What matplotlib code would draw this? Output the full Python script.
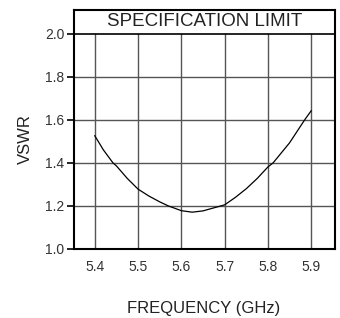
import matplotlib.pyplot as plt

plt.rcParams['font.family'] = ['Liberation Sans', 'DejaVu Sans']

freq = [5.40, 5.42, 5.442, 5.45, 5.475, 5.50, 5.525, 5.55, 5.57, 5.60, 5.625, 5.65,
        5.70, 5.725, 5.75, 5.775, 5.80, 5.812, 5.85, 5.885, 5.90]
vswr = [1.526, 1.46, 1.40, 1.386, 1.328, 1.278, 1.246, 1.219, 1.20, 1.178, 1.171, 1.177,
        1.205, 1.24, 1.28, 1.327, 1.381, 1.40, 1.493, 1.60, 1.642]

xticks = [5.4, 5.5, 5.6, 5.7, 5.8, 5.9]
yticks = [1.0, 1.2, 1.4, 1.6, 1.8, 2.0]

fig = plt.figure(figsize=(3.4, 3.18), dpi=100)
ax = fig.add_axes([74 / 340, 1 - 249 / 318, 261 / 340, 239 / 318])
ax.set_xlim(5.352, 5.955)
ax.set_ylim(1.0, 2.11)

# grid: verticals stop at the limit line, horizontals span the box
for x in xticks:
    ax.plot([x, x], [1.0, 2.0], color='#555555', lw=1.0, zorder=1)
for y in yticks[1:-1]:
    ax.axhline(y, color='#555555', lw=1.0, zorder=1)
ax.axhline(2.0, color='black', lw=1.2, zorder=2)

ax.plot(freq, vswr, color='black', lw=0.9, zorder=3)

ax.text(0.5, 2.056, 'SPECIFICATION LIMIT', transform=ax.get_yaxis_transform(),
        ha='center', va='center', fontsize=13.5, color='#222222')

ax.set_xticks(xticks)
ax.set_yticks(yticks)
ax.set_xticklabels([f'{v:.1f}' for v in xticks], family=['Liberation Sans Narrow', 'Liberation Sans'])
ax.set_yticklabels([f'{v:.1f}' for v in yticks], family=['Liberation Sans Narrow', 'Liberation Sans'])
ax.tick_params(axis='x', length=0, pad=8, labelsize=10, labelcolor='#333333')
ax.tick_params(axis='y', length=5, width=1.2, pad=2, labelsize=10, labelcolor='#333333')
for s in ax.spines.values():
    s.set_linewidth(1.5)

fig.text(25 / 340, 1 - 139 / 318, 'VSWR', rotation=90, ha='center', va='center',
         fontsize=12, color='#222222')
fig.text(204 / 340, 1 - 308 / 318, 'FREQUENCY (GHz)', ha='center', va='center',
         fontsize=12, color='#222222')

fig.savefig('out.png', dpi=100)
